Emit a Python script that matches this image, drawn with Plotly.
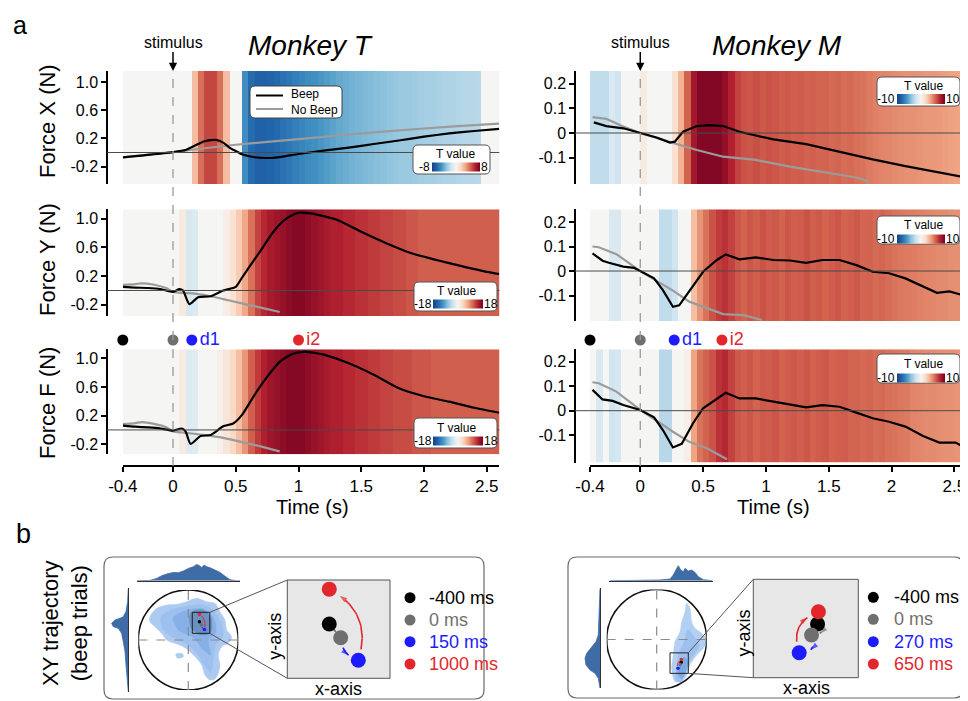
import plotly.graph_objects as go

W, H = 968, 701
OFF = 8  # the page body offsets the figure by 8 px; coordinates below are page pixels
FONT = "Liberation Sans, Arial, Helvetica, sans-serif"


def PX(p):
    return (p - OFF) / W


def PY(p):
    return 1 - (p - OFF) / H


# ============================ DATA ============================
# edges of the 50-ms bins of the T-value maps (s)
TIME_EDGES = [round(-0.4 + 0.05 * i, 2) for i in range(61)]

# T values (Beep vs No Beep) per bin
TVAL_T_X = [0, 0, 0, 0, 0, 0, 0, 0, 0, 0, 0,
            2.5, 4.5, 5.5, 5.5, 4.5, 2.5, 0, 0,
            -5.0, -6.2, -6.6, -6.6, -6.5, -6.3, -6.0, -5.8, -5.5, -5.3,
            -5.1, -4.9, -4.7, -4.5, -4.3, -4.1, -4.0, -3.8, -3.7, -3.6,
            -3.5, -3.4, -3.3, -3.2, -3.1, -3.0, -3.0, -2.9, -2.8, -2.7,
            -2.7, -2.6, -2.5, -2.5, -2.4, -2.3, -2.3, -2.2, 0, 0, 0]
TVAL_T_Y = [0, 0, 0, 0, 0, 0, 0, 0, 0, 1.5, -3.0, -2.5, 0, 0, 0, 0,
            1.0, 2.5, 4.5, 7.0, 10, 12.5, 14, 15, 15.5, 16,
            16.5, 17, 17, 16.5, 16, 15.5, 15, 14.5, 14.5, 14,
            14, 13.5, 13.5, 13, 13, 12.5, 12.5, 12, 12, 11.5, 11.5, 11,
            11, 11, 11, 11, 11, 11, 11, 11, 11, 11, 11, 11]
TVAL_T_F = [0, 0, 0, 0, 0, 0, 0, 0, 0, 1.2, -2.5, -2.0, 0, 0, 0, 0.8,
            2, 3.5, 5.5, 8, 11, 13, 14.5, 15.5, 16, 16.5,
            17, 17, 17, 16.5, 16, 15.5, 15, 14.5, 14.5, 14,
            14, 13.5, 13.5, 13, 13, 12.5, 12.5, 12, 12, 12, 11.5, 11.5,
            11.5, 11, 11, 11, 11, 11, 11, 11, 11, 11, 11, 11]
TVAL_M_X = [-2.5, -2.5, -2.5, -1.5, -2.0, 0, 0, 0, 0.8, 0, 0, 0, 0,
            1.5, 3.5, 6.0, 8.5, 9.5, 9.5, 9.5, 9.5, 9.0, 8.0, 7.0,
            6.5, 6.4, 6.6, 6.3, 6.5, 6.4, 6.2, 6.3, 6.1, 6.2,
            6.0, 6.1, 5.9, 6.0, 5.8, 5.9, 5.7, 5.8, 5.6, 5.5,
            5.3, 5.1, 5.0, 4.9, 4.8, 4.7, 4.6, 4.6, 4.5, 4.4, 4.4, 4.3, 4.2, 4.1, 4.0, 3.9]
TVAL_M_Y = [0, 0, 0, -1.5, -1.5, 0, 0, 0, 0, 0, 0, -2.5, -2.5, -2.0, 0, 0,
            3.0, 4.5, 5.5, 6.5, 7.2, 7.5, 7.0,
            6.3, 6.0, 6.4, 6.1, 6.5, 6.2, 6.3, 6.0, 6.4, 6.1, 6.2, 6.5, 6.1,
            6.3, 6.0, 6.2, 6.4, 6.0, 6.1, 6.3, 5.9, 6.0, 5.8, 5.9, 5.7,
            5.5, 5.4, 5.3, 5.2, 5.1, 5.0, 4.9, 4.8, 4.8, 4.7, 4.6, 4.5]
TVAL_M_F = [0, -1.5, 0, -2.0, -1.8, 0, 0, 0, 0, 0, 0, -2.8, -2.8, 0, 0, 0.5,
            4.0, 5.5, 6.0, 6.5, 7.5, 7.8, 7.0,
            6.3, 6.1, 6.4, 6.0, 6.3, 6.2, 6.4, 6.0, 6.2, 6.3, 6.1, 6.4, 6.0, 6.2,
            6.3, 6.0, 6.1, 6.2, 5.9, 6.0, 5.8, 5.9, 5.7, 5.8, 5.6, 5.5, 5.4, 5.3,
            5.0, 4.9, 4.8, 4.8, 4.7, 4.6, 4.6, 4.5, 4.5]

# Force traces (N): Monkey T
MT_X_BEEP_T = [-0.4, -0.3, -0.2, -0.1, 0.0, 0.1, 0.2, 0.25, 0.3, 0.35, 0.4, 0.45, 0.5, 0.55, 0.6,
               0.65, 0.7, 0.75, 0.8, 0.9, 1.0, 1.2, 1.4, 1.6, 1.8, 2.0, 2.2, 2.4, 2.6]
MT_X_BEEP = [-0.07, -0.052, -0.035, -0.015, 0.005, 0.035, 0.12, 0.16, 0.175, 0.175, 0.14, 0.07, 0.02,
             -0.026, -0.05, -0.068, -0.075, -0.078, -0.075, -0.05, -0.021, 0.026, 0.07, 0.12, 0.17,
             0.224, 0.27, 0.305, 0.335]
MT_X_NOBEEP_T = [-0.4, -0.2, 0.0, 0.2, 0.5, 1.0, 1.5, 2.0, 2.5, 2.6]
MT_X_NOBEEP = [-0.07, -0.03, 0.005, 0.05, 0.11, 0.19, 0.27, 0.34, 0.40, 0.41]

MT_Y_BEEP_T = [-0.4, -0.3, -0.2, -0.1, 0.0, 0.05, 0.08, 0.13, 0.2, 0.3, 0.4, 0.5, 0.55, 0.6, 0.7,
               0.8, 0.9, 1.0, 1.1, 1.3, 1.5, 1.7, 1.9, 2.1, 2.3, 2.5, 2.6]
MT_Y_BEEP = [0.05, 0.04, 0.035, 0.02, -0.02, 0.02, 0.0, -0.19, -0.095, -0.08, 0.0, 0.05, 0.18, 0.31,
             0.56, 0.82, 1.0, 1.085, 1.075, 0.99, 0.82, 0.66, 0.52, 0.425, 0.34, 0.26, 0.23]
MT_Y_NOBEEP_T = [-0.4, -0.3, -0.25, -0.15, -0.05, 0.0, 0.1, 0.2, 0.3, 0.4, 0.5, 0.6, 0.7, 0.85]
MT_Y_NOBEEP = [0.077, 0.09, 0.10, 0.08, 0.03, -0.02, -0.035, -0.05, -0.08, -0.12, -0.16, -0.2, -0.24, -0.30]

MT_F_BEEP_T = [-0.4, -0.3, -0.2, -0.1, 0.0, 0.07, 0.1, 0.14, 0.22, 0.3, 0.4, 0.48, 0.55, 0.65, 0.75,
               0.85, 0.95, 1.05, 1.2, 1.4, 1.6, 1.8, 2.0, 2.2, 2.4, 2.6]
MT_F_BEEP = [0.06, 0.045, 0.035, 0.02, -0.01, 0.02, -0.02, -0.195, -0.085, -0.07, 0.05, 0.09, 0.21,
             0.49, 0.74, 0.95, 1.06, 1.09, 1.05, 0.93, 0.77, 0.58, 0.47, 0.395, 0.31, 0.24]
MT_F_NOBEEP_T = [-0.4, -0.3, -0.25, -0.15, -0.05, 0.0, 0.1, 0.2, 0.3, 0.4, 0.5, 0.6, 0.7, 0.85]
MT_F_NOBEEP = [0.08, 0.095, 0.11, 0.085, 0.035, -0.02, -0.04, -0.06, -0.085, -0.11, -0.15, -0.19, -0.23, -0.30]

# Force traces (N): Monkey M
MM_X_BEEP_T = [-0.37, -0.27, -0.135, 0.0, 0.13, 0.235, 0.275, 0.34, 0.45, 0.55, 0.66, 0.79, 1.06,
               1.32, 1.585, 1.85, 2.11, 2.38, 2.59]
MM_X_BEEP = [0.043, 0.028, 0.019, 0.0, -0.018, -0.039, -0.035, 0.005, 0.028, 0.032, 0.028, 0.005,
             -0.026, -0.045, -0.076, -0.107, -0.134, -0.161, -0.18]
MM_X_NOBEEP_T = [-0.38, -0.27, -0.135, 0.0, 0.18, 0.29, 0.45, 0.66, 0.92, 1.19, 1.45, 1.72, 1.82]
MM_X_NOBEEP = [0.064, 0.057, 0.026, 0.0, -0.028, -0.045, -0.069, -0.096, -0.109, -0.136, -0.157, -0.18, -0.197]

MM_Y_BEEP_T = [-0.38, -0.3, -0.25, -0.135, -0.05, 0.0, 0.11, 0.18, 0.26, 0.31, 0.39, 0.5, 0.61, 0.68,
               0.79, 0.92, 1.06, 1.19, 1.32, 1.45, 1.585, 1.72, 1.85, 1.98, 2.11, 2.25, 2.36, 2.46, 2.59]
MM_Y_BEEP = [0.072, 0.042, 0.034, 0.018, 0.013, 0.0, -0.03, -0.078, -0.146, -0.14, -0.084, -0.003,
             0.045, 0.068, 0.048, 0.056, 0.045, 0.043, 0.033, 0.045, 0.045, 0.024, -0.003, -0.009,
             -0.03, -0.064, -0.089, -0.083, -0.102]
MM_Y_NOBEEP_T = [-0.38, -0.33, -0.19, 0.0, 0.13, 0.26, 0.39, 0.53, 0.66, 0.82, 0.97]
MM_Y_NOBEEP = [0.1, 0.097, 0.069, 0.0, -0.04, -0.08, -0.125, -0.152, -0.176, -0.18, -0.2]

MM_F_BEEP_T = [-0.38, -0.3, -0.22, -0.135, 0.0, 0.11, 0.18, 0.26, 0.33, 0.42, 0.5, 0.61, 0.68, 0.79,
               0.92, 1.06, 1.19, 1.32, 1.45, 1.585, 1.72, 1.85, 1.98, 2.11, 2.25, 2.38, 2.51, 2.59]
MM_F_BEEP = [0.085, 0.046, 0.04, 0.023, 0.003, -0.027, -0.079, -0.15, -0.135, -0.051, 0.01, 0.05,
             0.073, 0.05, 0.05, 0.037, 0.027, 0.014, 0.023, 0.016, -0.008, -0.031, -0.045, -0.065,
             -0.103, -0.13, -0.13, -0.153]
MM_F_NOBEEP_T = [-0.38, -0.33, -0.19, 0.0, 0.13, 0.26, 0.39, 0.53, 0.69]
MM_F_NOBEEP = [0.116, 0.112, 0.078, 0.003, -0.041, -0.086, -0.127, -0.153, -0.198]

# event times (s) and tags
EVENT_TIMES_T = [-0.4, 0.0, 0.15, 1.0]
EVENT_TIMES_M = [-0.4, 0.0, 0.27, 0.65]
EVENT_TAGS = ["", "", "d1", "i2"]
EVENT_COLORS = ["#000000", "#6f6f6f", "#1c1cff", "#e2262b"]

X_TICKS = [-0.4, 0, 0.5, 1, 1.5, 2, 2.5]
X_TICKTEXT = ["-0.4", "0", "0.5", "1", "1.5", "2", "2.5"]
Y_TICKS_T = [1.0, 0.6, 0.2, -0.2]
Y_TICKTEXT_T = ["1.0", "0.6", "0.2", "-0.2"]
Y_TICKS_M = [0.2, 0.1, 0, -0.1]
Y_TICKTEXT_M = ["0.2", "0.1", "0", "-0.1"]

# ---- panel b: XY positions (units of workspace radius) ----
BLOB_T_X = [-0.766, -0.633, -0.433, -0.233, -0.033, 0.167, 0.367, 0.533, 0.633, 0.733, 0.767, 0.867, 0.8,
            0.667, 0.6, 0.633, 0.6, 0.533, 0.433, 0.333, 0.267, 0.167, 0.033, -0.1, -0.267, -0.433,
            -0.533, -0.667, -0.767]
BLOB_T_Y = [0.466, 0.633, 0.7, 0.713, 0.767, 0.833, 0.767, 0.733, 0.567, 0.4, 0.2, 0.067, -0.067,
            -0.133, -0.3, -0.5, -0.667, -0.78, -0.8, -0.7, -0.5, -0.367, -0.233, -0.133, -0.067, 0.0,
            0.133, 0.267, 0.367]
BLOB_T_ISLAND_X = [-0.25, -0.12, -0.1, -0.22]
BLOB_T_ISLAND_Y = [-0.28, -0.27, -0.34, -0.36]
BLOB_T_L2_X = [-0.55, -0.35, 0.0, 0.3, 0.5, 0.65, 0.7, 0.55, 0.5, 0.45, 0.35, 0.2, 0.0, -0.3, -0.5]
BLOB_T_L2_Y = [0.45, 0.6, 0.68, 0.7, 0.6, 0.35, 0.1, -0.1, -0.4, -0.65, -0.55, -0.3, -0.1, 0.05, 0.2]
BLOB_T_L3_X = [-0.3, 0.0, 0.3, 0.5, 0.55, 0.4, 0.45, 0.3, 0.1, -0.2]
BLOB_T_L3_Y = [0.45, 0.6, 0.62, 0.45, 0.15, 0.0, -0.3, -0.2, 0.05, 0.2]
BLOB_T_L4_X = [0.05, 0.3, 0.45, 0.45, 0.25, 0.05]
BLOB_T_L4_Y = [0.55, 0.6, 0.45, 0.15, 0.1, 0.25]

BLOB_M_X = [0.366, 0.3, 0.333, 0.366, 0.466, 0.5, 0.566, 0.6, 0.666, 0.7, 0.766, 0.9, 1.0, 0.933,
            0.8, 0.666, 0.6, 0.5]
BLOB_M_Y = [-0.843, -0.577, -0.31, -0.043, 0.157, 0.357, 0.557, 0.723, 0.623, 0.357, 0.223, 0.123,
            -0.01, -0.177, -0.31, -0.51, -0.71, -0.843]
BLOB_M_L2_X = [0.38, 0.4, 0.45, 0.55, 0.62, 0.75, 0.85, 0.75, 0.62, 0.55, 0.48]
BLOB_M_L2_Y = [-0.8, -0.55, -0.25, -0.05, 0.2, 0.05, -0.12, -0.3, -0.5, -0.7, -0.85]
BLOB_M_L3_X = [0.42, 0.48, 0.55, 0.62, 0.58, 0.5]
BLOB_M_L3_Y = [-0.7, -0.45, -0.35, -0.45, -0.65, -0.78]

# marginal densities
TOPM_T_U = [-1.033, -1.0, -0.766, -0.633, -0.533, -0.433, -0.3, -0.2, -0.1, 0.0, 0.1, 0.167, 0.233,
            0.267, 0.313, 0.367, 0.433, 0.533, 0.633, 0.7, 0.767, 0.833, 0.967, 1.033]
TOPM_T_H = [0, 0, 0.3, 2.3, 5, 6.7, 8.3, 8, 9.7, 12.3, 14, 16.3, 14.7, 13, 15.7, 14, 13, 10.7, 8.3,
            5.7, 3, 1, 0, 0]
SIDEM_T_V = [1.03, 0.767, 0.567, 0.467, 0.433, 0.4, 0.333, 0.267, 0.233, 0.133, -0.033, -0.233, -0.5,
             -0.767, -1.033]
SIDEM_T_W = [0, 0.7, 2.3, 5, 8.3, 13.3, 16.7, 15, 10, 6.7, 5, 3.3, 2.3, 1, 0]
TOPM_M_U = [-0.947, -0.067, 0.066, 0.266, 0.333, 0.4, 0.433, 0.48, 0.533, 0.566, 0.633, 0.7, 0.766,
            0.833, 0.933, 1.12]
TOPM_M_H = [0, 0, 0.7, 1.7, 5.7, 12.3, 15, 10.7, 9, 12.3, 9.7, 10.7, 8.3, 4, 1, 0]
SIDEM_M_V = [1.02, 0.357, 0.09, -0.043, -0.11, -0.177, -0.277, -0.377, -0.51, -0.61, -0.677, -0.777, -0.977]
SIDEM_M_W = [0, 0.7, 1.7, 4, 6.7, 10, 13.3, 15, 14, 10, 5, 1.7, 0]

# zoom windows and mean trajectory points (-400, 0, d1, i2)
ZOOM_T_X = [0.08, 0.43]
ZOOM_T_Y = [0.133, 0.553]
ZOOM_M_X = [0.266, 0.632]
ZOOM_M_Y = [-0.677, -0.267]
TRAJ_T_X = [0.223, 0.262, 0.322, 0.223]
TRAJ_T_Y = [0.365, 0.306, 0.210, 0.514]
TRAJ_M_X = [0.490, 0.469, 0.426, 0.493]
TRAJ_M_Y = [-0.453, -0.499, -0.573, -0.402]

# ============================ STYLE ============================
RDBU_R = [[0.0, "#173f80"], [0.1, "#2166ac"], [0.2, "#4393c3"], [0.3, "#92c5de"], [0.4, "#d1e5f0"],
          [0.5, "#f5f5f3"], [0.6, "#fbd9c4"], [0.7, "#efa584"], [0.8, "#d2634f"], [0.9, "#b2202f"],
          [1.0, "#730021"]]

LEFT_XDOM = [PX(122.8), PX(499.3)]
RIGHT_XDOM = [PX(590.0), PX(967.0)]

PANELS = [
    dict(n=1, xdom=LEFT_XDOM, ybox=(71, 184), yr=[-0.447, 1.156], T=TVAL_T_X, tmax=8,
         bt=MT_X_BEEP_T, bv=MT_X_BEEP, gt=MT_X_NOBEEP_T, gv=MT_X_NOBEEP, yt=(Y_TICKS_T, Y_TICKTEXT_T),
         spline=True, yax=107, xend=499.3, cb=(456, 166.5, 48, 9), box=(413, 145, 490, 174),
         tv=(455, 154), lo=(424.5, 166.5), hi=(484.5, 166.5), title="Force X (N)", ty=121, bottom=False),
    dict(n=2, xdom=LEFT_XDOM, ybox=(209.3, 316), yr=[-0.356, 1.133], T=TVAL_T_Y, tmax=18,
         bt=MT_Y_BEEP_T, bv=MT_Y_BEEP, gt=MT_Y_NOBEEP_T, gv=MT_Y_NOBEEP, yt=(Y_TICKS_T, Y_TICKTEXT_T),
         spline=True, yax=107, xend=499.3, cb=(458.3, 303.8, 50, 9), box=(414, 282, 497, 311),
         tv=(456, 290.5), lo=(422.5, 303.8), hi=(490.5, 303.8), title="Force Y (N)", ty=260, bottom=False),
    dict(n=3, xdom=LEFT_XDOM, ybox=(349.3, 454.3), yr=[-0.340, 1.125], T=TVAL_T_F, tmax=18,
         bt=MT_F_BEEP_T, bv=MT_F_BEEP, gt=MT_F_NOBEEP_T, gv=MT_F_NOBEEP, yt=(Y_TICKS_T, Y_TICKTEXT_T),
         spline=True, yax=107, xend=499.3, cb=(458.3, 441, 50, 9), box=(414, 418, 497, 448),
         tv=(456, 427.5), lo=(422.5, 441), hi=(490.5, 441), title="Force F (N)", ty=403, bottom=True),
    dict(n=4, xdom=RIGHT_XDOM, ybox=(71, 184), yr=[-0.2065, 0.251], T=TVAL_M_X, tmax=10,
         bt=MM_X_BEEP_T, bv=MM_X_BEEP, gt=MM_X_NOBEEP_T, gv=MM_X_NOBEEP, yt=(Y_TICKS_M, Y_TICKTEXT_M),
         spline=False, yax=575, xend=967, cb=(921, 98.7, 48, 10), box=(877, 77, 960, 106),
         tv=(923, 86.5), lo=(886, 98.7), hi=(952.5, 98.7), title=None, ty=None, bottom=False),
    dict(n=5, xdom=RIGHT_XDOM, ybox=(209.3, 321), yr=[-0.204, 0.252], T=TVAL_M_Y, tmax=10,
         bt=MM_Y_BEEP_T, bv=MM_Y_BEEP, gt=MM_Y_NOBEEP_T, gv=MM_Y_NOBEEP, yt=(Y_TICKS_M, Y_TICKTEXT_M),
         spline=False, yax=575, xend=967, cb=(921, 238.5, 48, 9), box=(877, 216, 960, 244),
         tv=(923, 225), lo=(886, 238.5), hi=(952.5, 238.5), title=None, ty=None, bottom=False),
    dict(n=6, xdom=RIGHT_XDOM, ybox=(349.3, 462.7), yr=[-0.2122, 0.2506], T=TVAL_M_F, tmax=10,
         bt=MM_F_BEEP_T, bv=MM_F_BEEP, gt=MM_F_NOBEEP_T, gv=MM_F_NOBEEP, yt=(Y_TICKS_M, Y_TICKTEXT_M),
         spline=False, yax=575, xend=967, cb=(921, 377.5, 48, 9), box=(877, 354, 960, 383),
         tv=(923, 364.5), lo=(886, 377.5), hi=(952.5, 377.5), title=None, ty=None, bottom=True),
]


def sfx(n):
    return "" if n == 1 else str(n)


def rrect(x0, y0, x1, y1, r, fill="white", line="#555", width=1, layer="above"):
    X, Y = PX, PY
    path = (f"M {X(x0 + r)},{Y(y0)} L {X(x1 - r)},{Y(y0)} Q {X(x1)},{Y(y0)} {X(x1)},{Y(y0 + r)} "
            f"L {X(x1)},{Y(y1 - r)} Q {X(x1)},{Y(y1)} {X(x1 - r)},{Y(y1)} "
            f"L {X(x0 + r)},{Y(y1)} Q {X(x0)},{Y(y1)} {X(x0)},{Y(y1 - r)} "
            f"L {X(x0)},{Y(y0 + r)} Q {X(x0)},{Y(y0)} {X(x0 + r)},{Y(y0)} Z")
    return dict(type="path", xref="paper", yref="paper", path=path, fillcolor=fill,
                line=dict(color=line, width=width), layer=layer)


def txt(x, y, text, size, color="black", xanchor="center", angle=0, italic=False):
    return dict(x=PX(x), y=PY(y), xref="paper", yref="paper",
                text=f"<i>{text}</i>" if italic else text, showarrow=False, textangle=angle,
                xanchor=xanchor, yanchor="middle", font=dict(family=FONT, size=size, color=color))


fig = go.Figure()
layout = dict(width=W, height=H, margin=dict(l=0, r=0, t=0, b=0, pad=0, autoexpand=False),
              paper_bgcolor="white", plot_bgcolor="rgba(0,0,0,0)", showlegend=False,
              font=dict(family=FONT, color="black"))
shapes, annotations = [], []

# ---------------- panel a ----------------
for p in PANELS:
    s = sfx(p["n"])
    xa, ya = "x" + s, "y" + s
    cx, cy, clen, cth = p["cb"]
    fig.add_trace(go.Heatmap(
        z=[p["T"]], x=TIME_EDGES, y=p["yr"], zmin=-p["tmax"], zmax=p["tmax"], colorscale=RDBU_R,
        xaxis=xa, yaxis=ya, hoverinfo="skip",
        colorbar=dict(orientation="h", x=PX(cx), xanchor="center", y=PY(cy), yanchor="middle",
                      len=clen, lenmode="pixels", thickness=cth, thicknessmode="pixels",
                      outlinewidth=0, showticklabels=False, ticks="", xpad=0, ypad=0)))
    shape_kw = dict(shape="spline", smoothing=0.6) if p["spline"] else dict(shape="linear")
    fig.add_trace(go.Scatter(x=p["gt"], y=p["gv"], mode="lines", xaxis=xa, yaxis=ya, hoverinfo="skip",
                             line=dict(color="#9b9b9b", width=2.2, **shape_kw)))
    fig.add_trace(go.Scatter(x=p["bt"], y=p["bv"], mode="lines", xaxis=xa, yaxis=ya, hoverinfo="skip",
                             line=dict(color="black", width=2.2, **shape_kw)))
    top, bot = p["ybox"]
    xaxis = dict(domain=p["xdom"], range=[-0.4, 2.6], showgrid=False, zeroline=False, fixedrange=True,
                 automargin=False)
    if p["bottom"]:
        xaxis.update(anchor="free", position=PY(466), showline=True, linecolor="black", linewidth=1.5,
                     ticks="outside", ticklen=5, tickwidth=1.5, tickcolor="black", tickvals=X_TICKS,
                     ticktext=X_TICKTEXT, tickfont=dict(family=FONT, size=17, color="black"))
    else:
        xaxis.update(anchor=ya, showline=False, ticks="", showticklabels=False)
    layout["xaxis" + s] = xaxis
    layout["yaxis" + s] = dict(domain=[PY(bot), PY(top)], range=p["yr"], anchor="free", position=PX(p["yax"]),
                               showline=True, linecolor="black", linewidth=1.5, ticks="outside", ticklen=5,
                               tickwidth=1.5, tickcolor="black", tickvals=p["yt"][0], ticktext=p["yt"][1],
                               tickfont=dict(family=FONT, size=16, color="black"), showgrid=False,
                               zeroline=False, fixedrange=True, automargin=False)
    # zero line
    shapes.append(dict(type="line", xref="paper", yref=ya, x0=PX(p["yax"]), x1=PX(p["xend"]), y0=0, y1=0,
                       line=dict(color="#4a4a4a", width=1)))
    # colour-bar box
    bx0, by0, bx1, by1 = p["box"]
    shapes.append(rrect(bx0, by0, bx1, by1, 5, fill="white", line="#555", width=1))
    annotations.append(txt(p["tv"][0], p["tv"][1], "T value", 12))
    annotations.append(txt(p["lo"][0], p["lo"][1], f"-{p['tmax']}", 12))
    annotations.append(txt(p["hi"][0], p["hi"][1], f"{p['tmax']}", 12))
    if p["title"]:
        annotations.append(txt(47, p["ty"], p["title"], 22, angle=-90))

# event dots rows
for n, xdom, times in [(7, LEFT_XDOM, EVENT_TIMES_T), (8, RIGHT_XDOM, EVENT_TIMES_M)]:
    s = sfx(n)
    fig.add_trace(go.Scatter(x=times, y=[0.5] * len(times), mode="markers+text", text=EVENT_TAGS,
                             textposition="middle right", hoverinfo="skip", cliponaxis=False,
                             textfont=dict(family=FONT, size=18, color=EVENT_COLORS),
                             marker=dict(size=11, color=EVENT_COLORS),
                             xaxis="x" + s, yaxis="y" + s))
    layout["xaxis" + s] = dict(domain=xdom, range=[-0.4, 2.6], anchor="y" + s, visible=False, fixedrange=True,
                               automargin=False)
    layout["yaxis" + s] = dict(domain=[PY(352), PY(328)], range=[0, 1], anchor="x" + s, visible=False,
                               fixedrange=True, automargin=False)

# stimulus dashed lines + arrows
for xa in ["x", "x4"]:
    shapes.append(dict(type="line", xref=xa, yref="paper", x0=0, x1=0, y0=PY(466), y1=PY(71),
                       line=dict(color="#9a9a9a", width=1.3, dash="dash")))
    annotations.append(dict(x=0, y=PY(71), xref=xa, yref="paper", text="stimulus", showarrow=True,
                            ax=0, ay=-29, arrowhead=2, arrowsize=1.1, arrowwidth=1.5, arrowcolor="black",
                            font=dict(family=FONT, size=16, color="black")))

# legend of panel a
shapes.append(rrect(250, 86, 342, 118, 5, fill="white", line="#444", width=1))
shapes.append(dict(type="line", xref="paper", yref="paper", x0=PX(256), x1=PX(283), y0=PY(95.5), y1=PY(95.5),
                   line=dict(color="black", width=2)))
shapes.append(dict(type="line", xref="paper", yref="paper", x0=PX(256), x1=PX(283), y0=PY(109),
                   y1=PY(109), line=dict(color="#9b9b9b", width=2)))
annotations.append(dict(x=PX(289), y=PY(102.3), xref="paper", yref="paper", text="Beep<br>No Beep",
                        showarrow=False, xanchor="left", yanchor="middle", align="left",
                        font=dict(family=FONT, size=12, color="black")))

# titles / labels
annotations.append(txt(20, 25, "a", 25))
annotations.append(txt(23, 534, "b", 27))
annotations.append(txt(310, 46, "Monkey T", 28, italic=True))
annotations.append(txt(777, 46, "Monkey M", 28, italic=True))
annotations.append(txt(312, 507, "Time (s)", 20))
annotations.append(txt(773, 507, "Time (s)", 20))
annotations.append(txt(65, 623, "XY trajectory<br>(beep trials)", 22, angle=-90))

# ---------------- panel b ----------------


def arc_pts(p0, p2, bend_px, sx, sy, n=24):
    ax_, ay_ = p0[0] * sx, p0[1] * sy
    bx, by = p2[0] * sx, p2[1] * sy
    dx, dy = bx - ax_, by - ay_
    L = (dx * dx + dy * dy) ** 0.5
    nx, ny = -dy / L, dx / L
    cx, cy = (ax_ + bx) / 2 + bend_px * nx, (ay_ + by) / 2 + bend_px * ny
    t0 = min(0.42, 9.0 / L)
    t1 = 1 - min(0.42, 10.0 / L)
    xs, ys = [], []
    for i in range(n + 1):
        t = t0 + (t1 - t0) * i / n
        xs.append(((1 - t) ** 2 * ax_ + 2 * (1 - t) * t * cx + t * t * bx) / sx)
        ys.append(((1 - t) ** 2 * ay_ + 2 * (1 - t) * t * cy + t * t * by) / sy)
    return xs, ys


B_PANELS = [
    dict(ids=(9, 10, 11, 12), center=(188.3, 640.0), R=50.0, zx=ZOOM_T_X, zy=ZOOM_T_Y,
         inset=(287.3, 580.0, 390.0, 678.3), traj=(TRAJ_T_X, TRAJ_T_Y), bends=[0, -10, -32],
         times=EVENT_TIMES_T, top=(TOPM_T_U, TOPM_T_H), top_dom=(136.7, 240.0, 558.0, 580.7),
         top_range=[-1.033, 1.033], side=(SIDEM_T_V, SIDEM_T_W), side_dom=(106.0, 128.3, 588.3, 691.7),
         side_range=[-1.033, 1.033], side_w=22.3,
         blobs=[(BLOB_T_X, BLOB_T_Y, "#adcbf1"), (BLOB_T_ISLAND_X, BLOB_T_ISLAND_Y, "#adcbf1"),
                (BLOB_T_L2_X, BLOB_T_L2_Y, "#9dc0ee"), (BLOB_T_L3_X, BLOB_T_L3_Y, "#87b0e6"),
                (BLOB_T_L4_X, BLOB_T_L4_Y, "#6b90c2")],
         leg=(410, 427, [597.7, 620, 641.7, 664]), ylab=(275, 636.7), xlab=(338.6, 689),
         box=(104, 557, 484, 699)),
    dict(ids=(13, 14, 15, 16), center=(656.7, 639.5), R=50.0, zx=ZOOM_M_X, zy=ZOOM_M_Y,
         inset=(753.3, 579.3, 858.3, 677.7), traj=(TRAJ_M_X, TRAJ_M_Y), bends=[14, 16, 22],
         times=EVENT_TIMES_M, top=(TOPM_M_U, TOPM_M_H), top_dom=(609.3, 712.7, 558.0, 580.7),
         top_range=[-0.947, 1.12], side=(SIDEM_M_V, SIDEM_M_W), side_dom=(578.0, 600.0, 588.3, 688.3),
         side_range=[-0.976, 1.024], side_w=22.0,
         blobs=[(BLOB_M_X, BLOB_M_Y, "#b3d0f2"), (BLOB_M_L2_X, BLOB_M_L2_Y, "#9dc0ee"),
                (BLOB_M_L3_X, BLOB_M_L3_Y, "#7fa9e2")],
         leg=(873.3, 891.7, [597.3, 619.3, 641.7, 664]), ylab=(743.5, 633), xlab=(806, 688),
         box=(568, 557, 963, 698)),
]

for b in B_PANELS:
    ci, ii, ti, si = b["ids"]
    cxa, cya = "x" + sfx(ci), "y" + sfx(ci)
    ixa, iya = "x" + sfx(ii), "y" + sfx(ii)
    txa, tya = "x" + sfx(ti), "y" + sfx(ti)
    sxa, sya = "x" + sfx(si), "y" + sfx(si)
    ccx, ccy = b["center"]
    R = b["R"]
    x0, y0, x1, y1 = b["inset"]

    # outer rounded frame
    shapes.append(rrect(*b["box"], 9, fill="rgba(0,0,0,0)", line="#6a6a6a", width=1.2, layer="below"))

    hid = dict(visible=False, fixedrange=True, automargin=False)
    layout["xaxis" + sfx(ci)] = dict(domain=[PX(ccx - R), PX(ccx + R)], range=[-1, 1], anchor=cya, **hid)
    layout["yaxis" + sfx(ci)] = dict(domain=[PY(ccy + R), PY(ccy - R)], range=[-1, 1], anchor=cxa, **hid)
    layout["xaxis" + sfx(ii)] = dict(domain=[PX(x0), PX(x1)], range=b["zx"], anchor=iya, **hid)
    layout["yaxis" + sfx(ii)] = dict(domain=[PY(y1), PY(y0)], range=b["zy"], anchor=ixa, **hid)
    tx0, tx1, ty0, ty1 = b["top_dom"]
    layout["xaxis" + sfx(ti)] = dict(domain=[PX(tx0), PX(tx1)], range=b["top_range"], anchor=tya,
                                     showline=True, linecolor="#333", linewidth=1, ticks="",
                                     showticklabels=False, showgrid=False, zeroline=False, fixedrange=True,
                                     automargin=False)
    layout["yaxis" + sfx(ti)] = dict(domain=[PY(ty1), PY(ty0)], range=[0, ty1 - ty0], anchor=txa, **hid)
    sx0, sx1, sy0, sy1 = b["side_dom"]
    layout["xaxis" + sfx(si)] = dict(domain=[PX(sx0), PX(sx1)], range=[-b["side_w"], 0], anchor=sya, **hid)
    layout["yaxis" + sfx(si)] = dict(domain=[PY(sy1), PY(sy0)], range=b["side_range"], anchor=sxa,
                                     side="right", showline=True, linecolor="#333", linewidth=1, ticks="",
                                     showticklabels=False, showgrid=False, zeroline=False, fixedrange=True,
                                     automargin=False)

    # marginal densities
    fig.add_trace(go.Scatter(x=b["top"][0], y=b["top"][1], mode="lines", fill="tozeroy",
                             fillcolor="#3f6ba6", line=dict(color="#3f6ba6", width=0.8),
                             xaxis=txa, yaxis=tya, hoverinfo="skip"))
    fig.add_trace(go.Scatter(x=[-w for w in b["side"][1]], y=b["side"][0], mode="lines", fill="tozerox",
                             fillcolor="#3f6ba6", line=dict(color="#3f6ba6", width=0.8),
                             xaxis=sxa, yaxis=sya, hoverinfo="skip"))

    # density blobs
    for bx_, by_, col in b["blobs"]:
        fig.add_trace(go.Scatter(x=list(bx_) + [bx_[0]], y=list(by_) + [by_[0]], mode="lines", fill="toself",
                                 fillcolor=col, line=dict(color=col, width=0.5, shape="spline", smoothing=0.8),
                                 xaxis=cxa, yaxis=cya, hoverinfo="skip"))

    # circle, crosshair, zoom window
    shapes.append(dict(type="circle", xref=cxa, yref=cya, x0=-1, y0=-1, x1=1, y1=1,
                       line=dict(color="#111", width=1.6)))
    shapes.append(dict(type="line", xref=cxa, yref=cya, x0=-1, x1=1, y0=0, y1=0,
                       line=dict(color="#8a8a8a", width=1.2, dash="dash")))
    shapes.append(dict(type="line", xref=cxa, yref=cya, x0=0, x1=0, y0=-1, y1=1,
                       line=dict(color="#8a8a8a", width=1.2, dash="dash")))
    shapes.append(dict(type="rect", xref=cxa, yref=cya, x0=b["zx"][0], x1=b["zx"][1], y0=b["zy"][0],
                       y1=b["zy"][1], line=dict(color="#222", width=1)))
    # connector lines (zoom window -> inset)
    zr_x = ccx + b["zx"][1] * R
    zt_y = ccy - b["zy"][1] * R
    zb_y = ccy - b["zy"][0] * R
    shapes.append(dict(type="line", xref="paper", yref="paper", x0=PX(zr_x), y0=PY(zt_y), x1=PX(x0), y1=PY(y0),
                       line=dict(color="#555", width=1)))
    shapes.append(dict(type="line", xref="paper", yref="paper", x0=PX(zr_x), y0=PY(zb_y), x1=PX(x0), y1=PY(y1),
                       line=dict(color="#555", width=1)))
    # inset background
    shapes.append(dict(type="rect", xref="paper", yref="paper", x0=PX(x0), x1=PX(x1), y0=PY(y1), y1=PY(y0),
                       fillcolor="#e7e7e7", line=dict(color="#555", width=1), layer="below"))

    # trajectory (inset + miniature in the circle)
    tx_, ty_ = b["traj"]
    sxp = (x1 - x0) / (b["zx"][1] - b["zx"][0])
    syp = (y1 - y0) / (b["zy"][1] - b["zy"][0])
    for k in range(3):
        ax_pts, ay_pts = arc_pts((tx_[k], ty_[k]), (tx_[k + 1], ty_[k + 1]), b["bends"][k], sxp, syp)
        col = EVENT_COLORS[k + 1]
        sizes = [0] * (len(ax_pts) - 1) + [8]
        fig.add_trace(go.Scatter(x=ax_pts, y=ay_pts, mode="lines+markers", xaxis=ixa, yaxis=iya,
                                 line=dict(color=col, width=1.6), hoverinfo="skip",
                                 marker=dict(symbol="arrow", size=sizes, color=col, angleref="previous",
                                             line=dict(width=0))))
        fig.add_trace(go.Scatter(x=ax_pts, y=ay_pts, mode="lines", xaxis=cxa, yaxis=cya,
                                 line=dict(color=col, width=1), hoverinfo="skip"))
    fig.add_trace(go.Scatter(x=tx_, y=ty_, mode="markers", xaxis=ixa, yaxis=iya, hoverinfo="skip",
                             marker=dict(size=15, color=EVENT_COLORS, line=dict(width=0))))
    fig.add_trace(go.Scatter(x=tx_, y=ty_, mode="markers", xaxis=cxa, yaxis=cya, hoverinfo="skip",
                             marker=dict(size=3.5, color=EVENT_COLORS, line=dict(width=0))))

    # axis labels of the inset
    annotations.append(txt(b["ylab"][0], b["ylab"][1], "y-axis", 18, angle=-90))
    annotations.append(txt(b["xlab"][0], b["xlab"][1], "x-axis", 18))

    # legend of time points
    lx_dot, lx_txt, lys = b["leg"]
    for k, t in enumerate(b["times"]):
        col = EVENT_COLORS[k]
        r = 5.5
        shapes.append(dict(type="circle", xref="paper", yref="paper", x0=PX(lx_dot - r), x1=PX(lx_dot + r),
                           y0=PY(lys[k] + r), y1=PY(lys[k] - r), fillcolor=col, line=dict(width=0)))
        annotations.append(txt(lx_txt, lys[k], f"{round(t * 1000)} ms", 18, color=col, xanchor="left"))

layout["shapes"] = shapes
layout["annotations"] = annotations
fig.update_layout(**layout)
fig.write_html("out.html")
